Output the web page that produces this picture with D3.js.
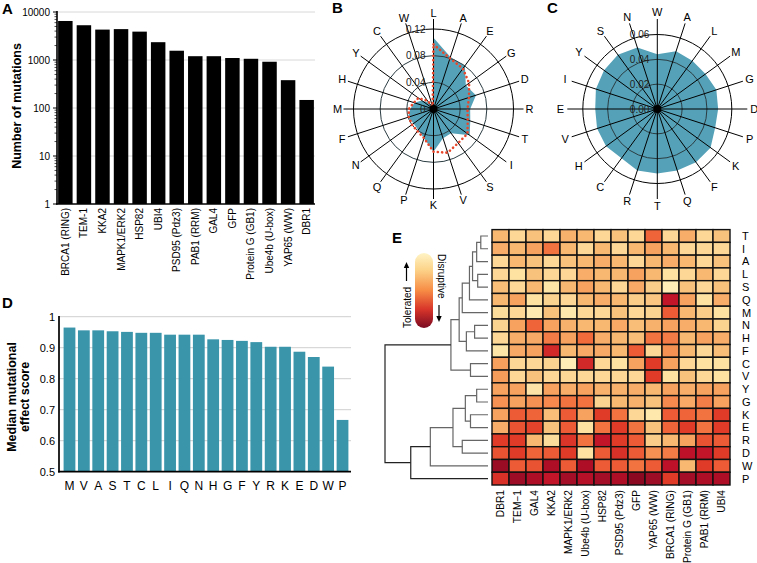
<!DOCTYPE html>
<html><head><meta charset="utf-8">
<script src="https://cdn.jsdelivr.net/npm/d3@7"></script>
<style>body{margin:0;background:#fff}svg{display:block;font-family:"Liberation Sans",Arial,Helvetica,sans-serif}text{fill:#000}</style>
</head><body><svg id="chart" width="757" height="563"></svg>
<script>
// ---------- DATA ----------
const proteins = ["BRCA1 (RING)","TEM-1","KKA2","MAPK1/ERK2","HSP82","UBI4","PSD95 (Pdz3)","PAB1 (RRM)","GAL4","GFP","Protein G (GB1)","Ube4b (U-box)","YAP65 (WW)","DBR1"];
const mutationCounts = [6500,5300,4300,4400,3900,2350,1560,1200,1200,1100,1060,920,380,147];
const countTicks = [1,10,100,1000,10000];

const radarBAxes = ["L","A","E","G","D","R","T","I","S","V","K","P","Q","N","F","M","H","Y","C","W"];
const radarBFill = [0.107,0.082,0.080,0.060,0.067,0.055,0.058,0.067,0.045,0.046,0.064,0.046,0.039,0.037,0.040,0.035,0.030,0.022,0.012,0.004];
const radarBDotted = [0.097,0.080,0.075,0.066,0.056,0.051,0.054,0.063,0.063,0.069,0.064,0.046,0.041,0.040,0.039,0.037,0.031,0.028,0.015,0.004];
const radarBTicks = [0,0.04,0.08,0.12];
const radarBTickLabels = ["0","0.04","0.08","0.12"];

const radarCAxes = ["W","A","L","M","G","D","P","K","F","Q","T","R","C","H","V","E","I","Y","S","N"];
const radarCFill = [0.044,0.049,0.048,0.048,0.050,0.049,0.049,0.053,0.053,0.052,0.052,0.052,0.049,0.051,0.051,0.050,0.052,0.053,0.054,0.052];
const radarCTicks = [0,0.02,0.04,0.06];
const radarCTickLabels = ["0.00","0.02","0.04","0.06"];

const aminoAcids = ["M","V","A","S","T","C","L","I","Q","N","H","G","F","Y","R","K","E","D","W","P"];
const medianScores = [0.965,0.956,0.956,0.953,0.951,0.948,0.948,0.942,0.942,0.942,0.927,0.925,0.922,0.918,0.903,0.903,0.887,0.870,0.839,0.667];
const scoreTicks = [0.5,0.6,0.7,0.8,0.9,1];

const heatCols = ["DBR1","TEM\u22121","GAL4","KKA2","MAPK1/ERK2","Ube4b (U-box)","HSP82","PSD95 (Pdz3)","GFP","YAP65 (WW)","BRCA1 (RING)","Protein G (GB1)","PAB1 (RRM)","UBI4"];
const heatRows = ["T","I","A","L","S","Q","M","N","H","F","C","V","Y","G","K","E","R","D","W","P"];
const heatValues = [
 [0.35,0.2,0.3,0.2,0.38,0.35,0.2,0.3,0.2,0.62,0.2,0.4,0.2,0.3],
 [0.4,0.35,0.45,0.58,0.35,0.2,0.35,0.2,0.35,0.45,0.35,0.2,0.2,0.2],
 [0.2,0.35,0.3,0.2,0.3,0.35,0.4,0.35,0.2,0.35,0.4,0.35,0.2,0.3],
 [0.2,0.15,0.3,0.2,0.2,0.4,0.35,0.35,0.45,0.35,0.15,0.2,0.35,0.2],
 [0.32,0.2,0.35,0.12,0.35,0.45,0.35,0.2,0.42,0.25,0.05,0.3,0.2,0.3],
 [0.35,0.45,0.15,0.22,0.2,0.35,0.4,0.35,0.25,0.28,0.84,0.45,0.15,0.4],
 [0.18,0.2,0.08,0.3,0.1,0.2,0.2,0.3,0.2,0.22,0.64,0.35,0.25,0.15],
 [0.22,0.45,0.62,0.45,0.38,0.35,0.35,0.42,0.32,0.38,0.45,0.4,0.35,0.22],
 [0.2,0.4,0.42,0.56,0.45,0.6,0.4,0.35,0.32,0.58,0.56,0.35,0.45,0.4],
 [0.12,0.42,0.45,0.78,0.35,0.42,0.42,0.35,0.64,0.2,0.5,0.35,0.2,0.32],
 [0.46,0.2,0.2,0.22,0.05,0.78,0.2,0.15,0.45,0.72,0.45,0.2,0.15,0.15],
 [0.47,0.2,0.3,0.2,0.2,0.2,0.2,0.2,0.2,0.72,0.15,0.3,0.2,0.15],
 [0.45,0.45,0.13,0.45,0.4,0.45,0.38,0.38,0.4,0.35,0.45,0.4,0.45,0.45],
 [0.5,0.45,0.5,0.52,0.58,0.58,0.22,0.35,0.38,0.3,0.52,0.42,0.55,0.45],
 [0.45,0.64,0.62,0.32,0.64,0.45,0.72,0.58,0.2,0.1,0.64,0.62,0.58,0.72],
 [0.4,0.66,0.7,0.3,0.64,0.15,0.58,0.72,0.58,0.3,0.62,0.72,0.58,0.72],
 [0.72,0.72,0.35,0.18,0.74,0.58,0.84,0.72,0.64,0.25,0.35,0.45,0.66,0.64],
 [0.66,0.72,0.62,0.64,0.72,0.15,0.64,0.75,0.64,0.5,0.56,0.86,0.84,0.72],
 [0.96,0.64,0.66,0.9,0.64,0.9,0.64,0.64,0.58,0.64,0.86,0.35,0.72,0.64],
 [0.75,0.95,0.9,0.84,0.93,0.88,0.93,0.9,1.0,0.95,0.72,0.93,0.9,0.9]
];
// linkage: [childA, childB, height]; numbers refer to earlier merges
const dendroMerges = [
 ["T","I",0.07],[0,"A",0.11],["L","S",0.10],[1,2,0.15],[3,"Q",0.18],[4,"M",0.25],
 ["N","H",0.13],[6,"F",0.21],[5,7,0.28],["C","V",0.17],[8,9,0.36],
 ["Y","G",0.11],["K","E",0.17],[11,12,0.22],["R","D",0.25],[13,14,0.34],
 [15,"W",0.56],[16,"P",0.75],[10,17,1.0]
];

// ---------- DRAW ----------
const svg = d3.select("#chart");
function panelLabel(t,x,y){svg.append("text").attr("x",x).attr("y",y).attr("font-size",15).attr("font-weight","bold").text(t);}

// Panel A
(function(){
  const g = svg.append("g");
  const y = d3.scaleLog().domain([1,10000]).range([204,12]);
  const x = d3.scaleBand().domain(proteins).range([57,315]).paddingInner(0.22).paddingOuter(0.06);
  g.selectAll(".grid").data(countTicks.slice(1)).join("line")
    .attr("x1",57).attr("x2",315).attr("y1",d=>y(d)).attr("y2",d=>y(d)).attr("stroke","#d8d8d8");
  g.selectAll(".bar").data(mutationCounts).join("rect")
    .attr("x",(d,i)=>x(proteins[i])).attr("width",x.bandwidth())
    .attr("y",d=>y(d)).attr("height",d=>204-y(d)).attr("fill","#000");
  const minor=[]; [1,10,100,1000].forEach(dc=>{for(let k=2;k<10;k++)minor.push(dc*k);});
  g.selectAll(".mt").data(minor).join("line").attr("x1",54.5).attr("x2",57).attr("y1",d=>y(d)).attr("y2",d=>y(d)).attr("stroke","#000").attr("stroke-width",0.7);
  g.selectAll(".Mt").data(countTicks).join("line").attr("x1",53).attr("x2",57).attr("y1",d=>y(d)).attr("y2",d=>y(d)).attr("stroke","#000");
  g.append("line").attr("x1",57).attr("x2",57).attr("y1",11).attr("y2",204.5).attr("stroke","#000").attr("stroke-width",1.6);
  g.append("line").attr("x1",56).attr("x2",315).attr("y1",204).attr("y2",204).attr("stroke","#000").attr("stroke-width",1.6);
  g.selectAll(".yl").data(countTicks).join("text").attr("x",50).attr("y",d=>y(d)).attr("dy","0.35em")
    .attr("text-anchor","end").attr("font-size",10).text(d=>d);
  g.selectAll(".xl").data(proteins).join("text")
    .attr("transform",d=>`translate(${x(d)+x.bandwidth()/2},208) rotate(-90)`).attr("dy","0.35em")
    .attr("text-anchor","end").attr("font-size",10).text(d=>d);
  g.append("text").attr("transform","translate(21,106) rotate(-90)").attr("text-anchor","middle")
    .attr("font-size",12.5).attr("font-weight","bold").text("Number of mutations");
  panelLabel("A",2,14);
})();

// Radar helper
function radar(cx,cy,axes,rScale,ticks,tickLabels,fillVals,dotVals,spokeR,labelR){
  const g = svg.append("g").attr("transform",`translate(${cx},${cy})`);
  const n = axes.length;
  const ang = i=>i*2*Math.PI/n;
  const line = d3.lineRadial().angle((d,i)=>ang(i)).radius(d=>rScale(d)).curve(d3.curveLinearClosed);
  g.append("path").attr("d",line(fillVals)).attr("fill","#55a2b8");
  g.selectAll(".ring").data(ticks.filter(t=>t>0)).join("circle").attr("r",d=>rScale(d))
    .attr("fill","none").attr("stroke",(d,i,a)=>i===a.length-1?"#000":"#2b3c42").attr("stroke-width",1);
  g.selectAll(".spoke").data(axes).join("line").attr("x1",0).attr("y1",0)
    .attr("x2",(d,i)=>spokeR*Math.sin(ang(i))).attr("y2",(d,i)=>-spokeR*Math.cos(ang(i)))
    .attr("stroke","#000").attr("stroke-width",1);
  if(dotVals){
    g.append("path").attr("d",line(dotVals)).attr("fill","none").attr("stroke","#e8472b")
      .attr("stroke-width",2.6).attr("stroke-dasharray","0.1 4.2").attr("stroke-linecap","round");
  }
  g.selectAll(".tl").data(ticks).join("text").attr("x",-8).attr("y",d=>-rScale(d)).attr("dy","0.35em")
    .attr("text-anchor","end").attr("font-size",10).style("fill","#222").text((d,i)=>tickLabels[i]);
  g.append("circle").attr("r",4).attr("fill","#000");
  g.selectAll(".al").data(axes).join("text")
    .attr("x",(d,i)=>labelR*Math.sin(ang(i))).attr("y",(d,i)=>-labelR*Math.cos(ang(i))).attr("dy","0.36em")
    .attr("text-anchor","middle").attr("font-size",11).style("fill","#000").text(d=>d);
}
radar(433.5,109,radarBAxes,d3.scaleLinear().domain([0,0.12]).range([0,80]),radarBTicks,radarBTickLabels,radarBFill,radarBDotted,90,96);
panelLabel("B",332,13);
radar(657.3,109,radarCAxes,d3.scaleLinear().domain([0,0.06]).range([0,74.5]),radarCTicks,radarCTickLabels,radarCFill,null,90,97);
panelLabel("C",547,13);

// Panel D
(function(){
  const g = svg.append("g");
  const y = d3.scaleLinear().domain([0.5,1]).range([471.7,316.7]);
  const x = d3.scaleBand().domain(aminoAcids).range([60,352]).paddingInner(0.18).paddingOuter(0.25);
  g.selectAll(".grid").data(scoreTicks.slice(1)).join("line")
    .attr("x1",59).attr("x2",351).attr("y1",d=>y(d)).attr("y2",d=>y(d)).attr("stroke","#cfcfcf");
  g.selectAll(".bar").data(medianScores).join("rect")
    .attr("x",(d,i)=>x(aminoAcids[i])).attr("width",x.bandwidth())
    .attr("y",d=>y(d)).attr("height",d=>y(0.5)-y(d)).attr("fill","#3a95ab");
  g.append("line").attr("x1",59).attr("x2",59).attr("y1",316).attr("y2",472.5).attr("stroke","#000").attr("stroke-width",1.7);
  g.append("line").attr("x1",58).attr("x2",351).attr("y1",471.7).attr("y2",471.7).attr("stroke","#000").attr("stroke-width",1.7);
  g.selectAll(".yl").data(scoreTicks).join("text").attr("x",55).attr("y",d=>y(d)).attr("dy","0.35em")
    .attr("text-anchor","end").attr("font-size",11).text(d=>d);
  g.selectAll(".xl").data(aminoAcids).join("text").attr("x",d=>x(d)+x.bandwidth()/2).attr("y",490)
    .attr("text-anchor","middle").attr("font-size",12).text(d=>d);
  const t = g.append("text").attr("transform","translate(0,397) rotate(-90)").attr("text-anchor","middle")
    .attr("font-size",12.5).attr("font-weight","bold");
  t.append("tspan").attr("x",0).attr("y",16).text("Median mutational");
  t.append("tspan").attr("x",0).attr("y",29).text("effect score");
  panelLabel("D",2,308);
})();

// Panel E
(function(){
  const g = svg.append("g");
  const x = d3.scaleBand().domain(heatCols).range([492,730]);
  const y = d3.scaleBand().domain(heatRows).range([229.6,485]);
  const color = d3.scaleLinear().domain([0,0.15,0.3,0.45,0.6,0.72,0.85,1])
    .range(["#fff3c0","#fde2a2","#f9c27c","#f7a35f","#f26c3b","#e03a28","#c0122a","#8b0a22"]);
  heatRows.forEach((r,ri)=>{
    g.selectAll(null).data(heatValues[ri]).join("rect")
      .attr("x",(d,ci)=>x(heatCols[ci])).attr("y",y(r)).attr("width",x.bandwidth()).attr("height",y.bandwidth())
      .attr("fill",d=>color(d)).attr("stroke","#111").attr("stroke-width",1.4);
  });
  g.selectAll(".rl").data(heatRows).join("text").attr("x",742).attr("y",d=>y(d)+y.bandwidth()/2).attr("dy","0.36em")
    .attr("font-size",11).text(d=>d);
  g.selectAll(".cl").data(heatCols).join("text")
    .attr("transform",d=>`translate(${x(d)+x.bandwidth()/2},490) rotate(-90)`).attr("dy","0.36em")
    .attr("text-anchor","end").attr("font-size",10.2).text(d=>d);
  // dendrogram
  const hx = d3.scaleLinear().domain([0,1]).range([488,385]);
  const nodes = [];
  const pos = c => typeof c==="number" ? nodes[c] : {x:hx(0), y:y(c)+y.bandwidth()/2};
  const dg = g.append("g").attr("fill","none").attr("stroke-width",1.2);
  dendroMerges.forEach((m,i)=>{
    const a = pos(m[0]), b = pos(m[1]), nx = hx(m[2]);
    const col = m[2] >= 0.7 ? "#222" : "#666";
    dg.append("path").attr("stroke",col).attr("d",`M${a.x},${a.y}H${nx}V${b.y}H${b.x}`);
    nodes.push({x:nx, y:(a.y+b.y)/2});
  });
  // legend pill
  const defs = svg.append("defs");
  const gr = defs.append("linearGradient").attr("id","pill").attr("x1",0).attr("x2",0).attr("y1",0).attr("y2",1);
  [[0,"#fff4c6"],[0.22,"#fcd48a"],[0.5,"#f78c45"],[0.75,"#d8352a"],[1,"#7a0a22"]].forEach(s=>gr.append("stop").attr("offset",s[0]).attr("stop-color",s[1]));
  g.append("rect").attr("x",415).attr("y",253).attr("width",18).attr("height",75).attr("rx",9).attr("fill","url(#pill)");
  g.append("text").attr("transform","translate(411,328) rotate(-90)").attr("font-size",10).text("Tolerated");
  g.append("line").attr("x1",406.5).attr("x2",406.5).attr("y1",281).attr("y2",266).attr("stroke","#000").attr("stroke-width",1.2);
  g.append("path").attr("d","M406.5,262 L403.8,268 L409.2,268 Z").attr("fill","#000");
  g.append("text").attr("transform","translate(438,254) rotate(90)").attr("font-size",10).text("Disruptive");
  g.append("line").attr("x1",439).attr("x2",439).attr("y1",305).attr("y2",318).attr("stroke","#000").attr("stroke-width",1.2);
  g.append("path").attr("d","M439,322 L436.3,316 L441.7,316 Z").attr("fill","#000");
  panelLabel("E",392,243);
})();
</script></body></html>
